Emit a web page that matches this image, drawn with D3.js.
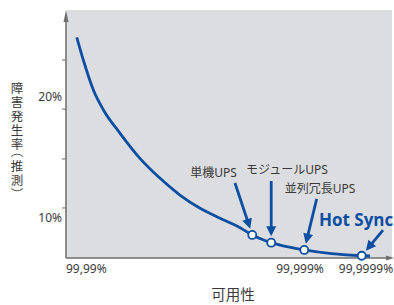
<!DOCTYPE html>
<html><head><meta charset="utf-8">
<script src="https://cdn.jsdelivr.net/npm/d3@7"></script>
<style>
body{margin:0;background:#fff}
svg{display:block}
text{font-family:"Noto Sans","Noto Sans CJK JP",sans-serif;fill:#3a3a3a}
</style>
</head><body>
<svg id="c" width="394" height="305"></svg>
<script>
// ---- data (availability expressed as number of nines; failure rate in %) ----
const curveNines = [4.046, 4.074, 4.117, 4.160, 4.231, 4.316, 4.402, 4.487, 4.573, 4.658, 4.744, 4.796, 4.877, 5.065, 5.935, 6.061];
const curveRate  = [24.93, 23.06, 20.58, 18.93, 17.00, 14.93, 13.28, 11.90, 10.80, 9.98, 9.20, 8.60, 7.96, 7.36, 6.88, 6.86];
const systems     = ["単機UPS", "モジュールUPS", "並列冗長UPS", "Hot Sync"];
const systemNines = [4.796, 4.877, 5.065, 5.935];
const systemRate  = [8.60, 7.96, 7.36, 6.88];
const xTickValues = [4, 5, 6];
const xTickLabels = ["99,99%", "99,999%", "99,9999%"];
const yLabelValues = [10, 20];
const yLabelTexts  = ["10%", "20%"];
const yMinorTicks  = [10.83, 14.88, 19.0, 23.06];
const yTitle = "障害発生率（推測）";
const xTitle = "可用性";

// ---- layout ----
const svg = d3.select("#c");
const pLeft = 66, pRight = 392, pTop = 10, pBottom = 258;
const blue = "#0b4ea2", axisCol = "#6e6e6e";
const cjk = "'Noto Sans CJK JP',sans-serif";
const x = d3.scaleLinear().domain([4, 5, 6]).range([66, 300, 366]);
const y = d3.scaleLinear().domain([10, 20]).range([218, 97]);

svg.append("rect").attr("x", pLeft + 1).attr("y", pTop).attr("width", pRight - pLeft - 1).attr("height", pBottom - pTop).attr("fill", "#dcdde0");

// axes
svg.append("line").attr("x1", pLeft).attr("x2", pLeft).attr("y1", pBottom).attr("y2", pTop + 6).attr("stroke", axisCol).attr("stroke-width", 1.6);
svg.append("path").attr("d", `M${pLeft-2.5},${pTop+12}L${pLeft},${pTop}L${pLeft+2.5},${pTop+12}Z`).attr("fill", axisCol);
svg.append("line").attr("x1", pLeft).attr("x2", 390).attr("y1", pBottom).attr("y2", pBottom).attr("stroke", axisCol).attr("stroke-width", 1.6);
svg.append("path").attr("d", `M386,${pBottom-2.5}L394,${pBottom}L386,${pBottom+2.5}Z`).attr("fill", axisCol);

// y tick marks
svg.selectAll(".ytk").data(yMinorTicks).join("line")
  .attr("x1", pLeft - 4).attr("x2", pLeft).attr("y1", d => y(d)).attr("y2", d => y(d))
  .attr("stroke", axisCol).attr("stroke-width", 1);
// y labels
svg.selectAll(".ylb").data(yLabelValues).join("text")
  .attr("x", 62).attr("y", d => y(d)).attr("dy", "0.35em")
  .attr("text-anchor", "end").attr("font-size", 12).text((d, i) => yLabelTexts[i]);
// x labels
svg.selectAll(".xlb").data(xTickValues).join("text")
  .attr("x", d => x(d)).attr("y", 273)
  .attr("text-anchor", (d, i) => i === 0 ? "start" : "middle")
  .attr("font-size", 12).text((d, i) => xTickLabels[i]);

// x title
svg.append("text").attr("x", 233).attr("y", 300).attr("text-anchor", "middle")
  .attr("font-size", 14.5).style("font-family", cjk).text(xTitle);

// vertical y title: one glyph per slot, brackets turned as in vertical typesetting
let cy = 80;
Array.from(yTitle).forEach(ch => {
  const isBr = ch === "（" || ch === "）";
  const h = isBr ? 8.5 : 14;
  const mid = cy + h / 2;
  const t = svg.append("text").attr("font-size", 12.5).style("font-family", cjk)
    .attr("text-anchor", "middle").attr("dominant-baseline", "central").text(ch);
  if (isBr) t.attr("transform", `translate(17,${mid}) rotate(90)`).attr("x", ch === "（" ? -3 : 3).attr("y", 0);
  else t.attr("x", 17).attr("y", mid);
  cy += h;
});

// curve
const pts = curveNines.map((n, i) => [x(n), y(curveRate[i])]);
svg.append("path").attr("d", d3.line().curve(d3.curveMonotoneX)(pts))
  .attr("fill", "none").attr("stroke", blue).attr("stroke-width", 2.8).attr("stroke-linecap", "butt");

// annotations: label offset / arrow-start offset from the marker (pixels)
const annot = [
  {lx: -38.8, ly: -58, anchor: "middle", sx: -17.3, sy: -52},
  {lx: 15.7, ly: -68.7, anchor: "middle", sx: 0, sy: -61.7},
  {lx: 15.7, ly: -57, anchor: "middle", sx: 12.4, sy: -51},
  {lx: -42.7, ly: -29.7, anchor: "start", sx: 21.3, sy: -25.7, hot: true}
];
systems.forEach((s, i) => {
  const mx = x(systemNines[i]), my = y(systemRate[i]);
  const a = annot[i];
  const sx = mx + a.sx, sy = my + a.sy;
  const dx = mx - sx, dy = my - sy, len = Math.hypot(dx, dy);
  const ux = dx / len, uy = dy / len;
  const tipX = mx - ux * 6.5, tipY = my - uy * 6.5;
  const baseX = tipX - ux * 10, baseY = tipY - uy * 10;
  svg.append("line").attr("x1", sx).attr("y1", sy).attr("x2", baseX + ux).attr("y2", baseY + uy)
    .attr("stroke", blue).attr("stroke-width", 2.8);
  svg.append("path").attr("d", `M${tipX},${tipY}L${baseX - uy*5},${baseY + ux*5}L${baseX + uy*5},${baseY - ux*5}Z`)
    .attr("fill", blue);
  const t = svg.append("text").attr("x", mx + a.lx).attr("y", my + a.ly).attr("text-anchor", a.anchor).text(s);
  if (a.hot) t.attr("font-size", 17).attr("font-weight", "bold").style("font-family", "'Open Sans',sans-serif").style("fill", blue);
  else t.attr("font-size", 12);
});

// markers
svg.selectAll(".mk").data(systems).join("circle")
  .attr("cx", (d, i) => x(systemNines[i])).attr("cy", (d, i) => y(systemRate[i]))
  .attr("r", 4).attr("fill", "#fff").attr("stroke", blue).attr("stroke-width", 1.8);
</script>
</body></html>
